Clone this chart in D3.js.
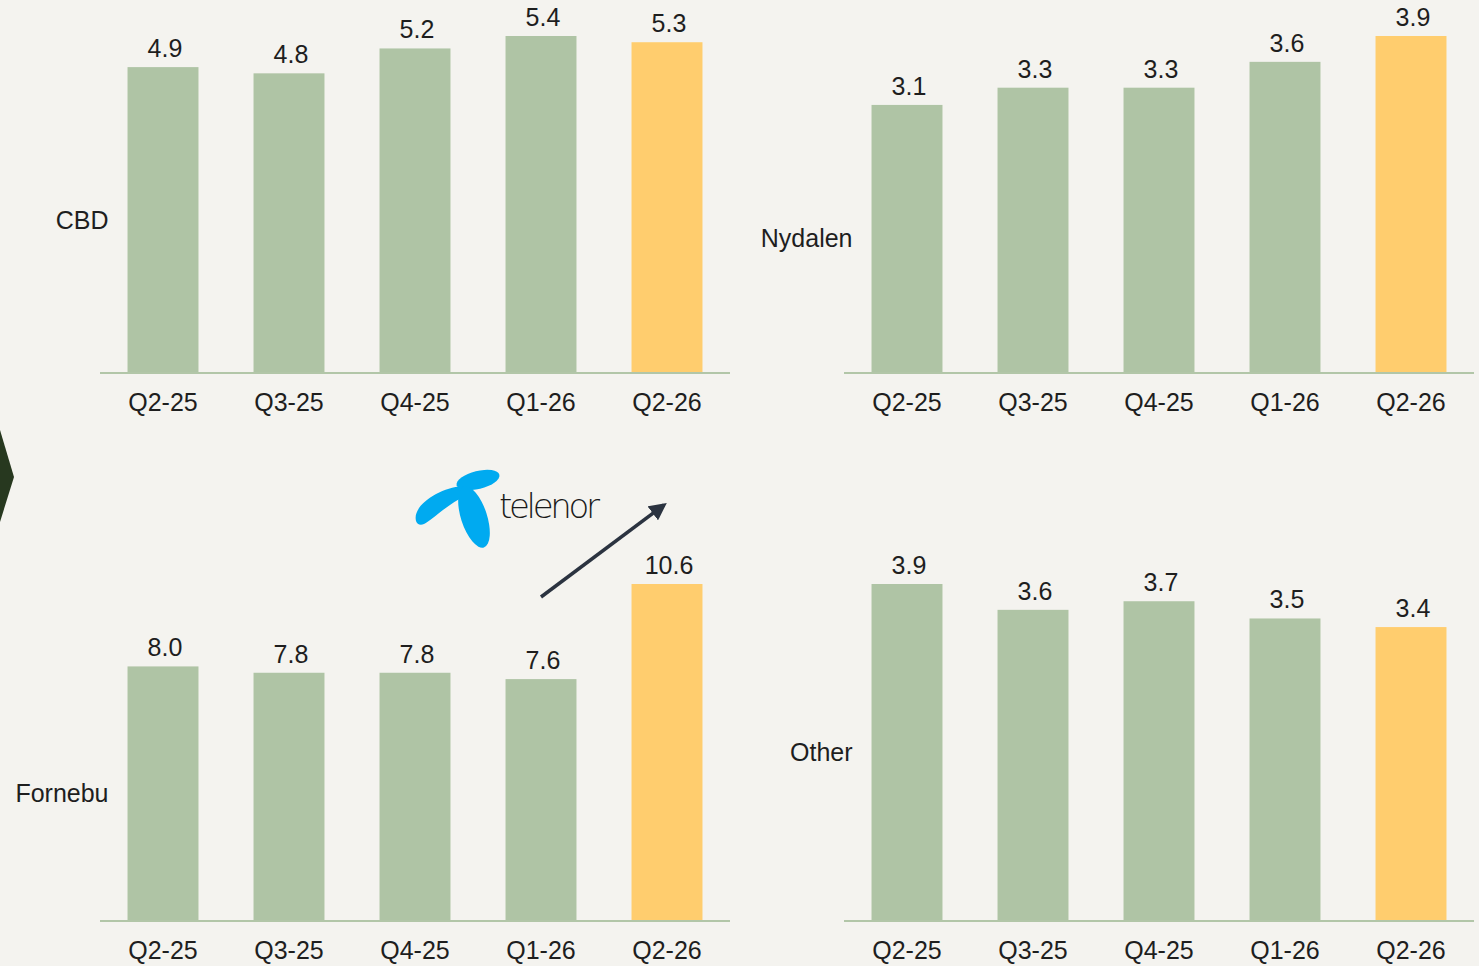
<!DOCTYPE html>
<html>
<head>
<meta charset="utf-8">
<script src="https://cdn.jsdelivr.net/npm/d3@7"></script>
<style>
  body { margin: 0; background: #f4f3ef; }
  svg { display: block; font-family: "Liberation Sans", Arial, sans-serif; }
</style>
</head>
<body>
<svg id="chart"></svg>
<script>
const quarters = ["Q2-25", "Q3-25", "Q4-25", "Q1-26", "Q2-26"];
const regions = ["CBD", "Nydalen", "Fornebu", "Other"];
const cbdValues = [4.9, 4.8, 5.2, 5.4, 5.3];
const nydalenValues = [3.1, 3.3, 3.3, 3.6, 3.9];
const fornebuValues = [8.0, 7.8, 7.8, 7.6, 10.6];
const otherValues = [3.9, 3.6, 3.7, 3.5, 3.4];
const seriesValues = [cbdValues, nydalenValues, fornebuValues, otherValues];

const W = 1479, H = 966;
const svg = d3.select("#chart").attr("width", W).attr("height", H);

svg.append("rect").attr("width", W).attr("height", H).attr("fill", "#f4f3ef");

// dark chevron on the left edge
svg.append("path")
    .attr("d", "M0,430 L14,477 L0,522 Z")
    .attr("fill", "#27381f");

// panel layout
const panels = [
    {x0: 100, x1: 730, base: 372},
    {x0: 844, x1: 1474, base: 372},
    {x0: 100, x1: 730, base: 920},
    {x0: 844, x1: 1474, base: 920}
];

const barH = 336;
const fs = 25;

panels.forEach(function (p, k) {
    const vals = seriesValues[k];
    const x = d3.scaleBand()
        .domain(quarters)
        .range([p.x0, p.x1])
        .paddingInner(0.437)
        .paddingOuter(0.2185);
    const y = d3.scaleLinear()
        .domain([0, d3.max(vals)])
        .range([p.base, p.base - barH]);

    const g = svg.append("g").attr("class", "panel");

    g.selectAll("rect.bar")
        .data(vals)
        .enter()
        .append("rect")
        .attr("class", "bar")
        .attr("x", (d, i) => x(quarters[i]))
        .attr("y", d => y(d))
        .attr("width", x.bandwidth())
        .attr("height", d => p.base - y(d))
        .attr("fill", (d, i) => i === quarters.length - 1 ? "#ffcd6e" : "#afc4a5");

    g.selectAll("text.val")
        .data(vals)
        .enter()
        .append("text")
        .attr("class", "val")
        .attr("x", (d, i) => x(quarters[i]) + x.bandwidth() / 2 + 2)
        .attr("y", d => y(d) - 10)
        .attr("text-anchor", "middle")
        .attr("font-size", fs)
        .attr("fill", "#1e1e1e")
        .text(d => d.toFixed(1));

    // axis line
    g.append("line")
        .attr("x1", p.x0).attr("x2", p.x1)
        .attr("y1", p.base + 1).attr("y2", p.base + 1)
        .attr("stroke", "#b2c6a8")
        .attr("stroke-width", 2);

    g.selectAll("text.cat")
        .data(quarters)
        .enter()
        .append("text")
        .attr("class", "cat")
        .attr("x", d => x(d) + x.bandwidth() / 2)
        .attr("y", p.base + 39)
        .attr("text-anchor", "middle")
        .attr("font-size", fs)
        .attr("fill", "#1e1e1e")
        .text(d => d);

    // region label, centred on the first bar
    g.append("text")
        .attr("x", x(quarters[0]) - 19)
        .attr("y", (p.base + y(vals[0])) / 2 + 9)
        .attr("text-anchor", "end")
        .attr("font-size", fs)
        .attr("fill", "#1e1e1e")
        .text(regions[k]);
});

// telenor logo
const logo = svg.append("g").attr("fill", "#00aaf0");
logo.append("ellipse")
    .attr("cx", 478).attr("cy", 480).attr("rx", 22).attr("ry", 9)
    .attr("transform", "rotate(-14 478 480)");
logo.append("path")
    .attr("d", "M416,521 C412,505 440,488 462,486 L466,496 C450,502 432,520 424,524 C420,526 417,524 416,521 Z");
logo.append("ellipse")
    .attr("cx", 474).attr("cy", 517).attr("rx", 13).attr("ry", 32)
    .attr("transform", "rotate(-18 474 517)");
svg.append("text")
    .attr("x", 499)
    .attr("y", 518)
    .attr("font-size", 34)
    .attr("font-family", "'DejaVu Sans', sans-serif")
    .attr("font-weight", 200)
    .attr("fill", "#1a1a1a")
    .attr("textLength", 101)
    .text("telenor");

// arrow
svg.append("defs").append("marker")
    .attr("id", "head")
    .attr("viewBox", "0 0 10 10")
    .attr("refX", 8).attr("refY", 5)
    .attr("markerWidth", 5).attr("markerHeight", 5)
    .attr("orient", "auto")
    .append("path")
    .attr("d", "M0,0 L10,5 L0,10 Z")
    .attr("fill", "#2b3340");
svg.append("line")
    .attr("x1", 541).attr("y1", 597)
    .attr("x2", 664).attr("y2", 505)
    .attr("stroke", "#2b3340")
    .attr("stroke-width", 3.5)
    .attr("marker-end", "url(#head)");
</script>
</body>
</html>
